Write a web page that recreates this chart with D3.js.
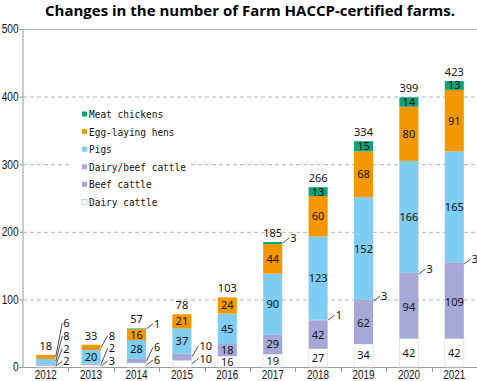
<!DOCTYPE html>
<html>
<head>
<meta charset="utf-8">
<script src="https://cdn.jsdelivr.net/npm/d3@7"></script>
<style>
  body { margin: 0; background: #fff; }
  svg { display: block; }
</style>
</head>
<body>
<svg id="svg" width="477" height="381"></svg>
<script>
// data
var years = ["2012","2013","2014","2015","2016","2017","2018","2019","2020","2021"];
var seriesNames = ["Dairy cattle","Beef cattle","Dairy/beef cattle","Pigs","Egg-laying hens","Meat chickens"];
var dairy     = [2, 3, 6, 10, 16, 19, 27, 34, 42, 42];
var beef      = [2, 2, 6, 10, 18, 29, 42, 62, 94, 109];
var dairyBeef = [0, 0, 0, 0, 0, 0, 1, 3, 3, 3];
var pigs      = [8, 20, 28, 37, 45, 90, 123, 152, 166, 165];
var hens      = [6, 8, 16, 21, 24, 44, 60, 68, 80, 91];
var chickens  = [0, 0, 1, 0, 0, 3, 13, 15, 14, 13];
var yTicks = [0, 100, 200, 300, 400, 500];

var colors = ["#ffffff", "#a5a8d6", "#b4a2cb", "#7fcdf2", "#f39800", "#12a079"];
var seriesVals = [dairy, beef, dairyBeef, pigs, hens, chickens];

var rows = years.map(function(y, i) {
  var r = {year: y};
  seriesNames.forEach(function(s, k) { r[s] = seriesVals[k][i]; });
  return r;
});
var stacked = d3.stack().keys(seriesNames)(rows);

var svg = d3.select("#svg");
var numFont = "'Noto Sans', 'DejaVu Sans', sans-serif";
var axFont = "'Liberation Sans Narrow', 'Liberation Sans', Arial, sans-serif";

var x = d3.scaleBand().domain(years).range([23, 477]).paddingInner(0.58).paddingOuter(0.29);
var y = d3.scaleLinear().domain([0, 500]).range([367, 29]);

// title
svg.append("text")
  .attr("x", 250).attr("y", 16)
  .attr("text-anchor", "middle")
  .attr("font-family", "'Open Sans', 'Noto Sans', sans-serif")
  .attr("font-weight", "bold")
  .attr("font-size", 15)
  .attr("textLength", 410)
  .attr("lengthAdjust", "spacingAndGlyphs")
  .text("Changes in the number of Farm HACCP-certified farms.");

// grid
svg.append("g").selectAll("line")
  .data(yTicks.filter(function(t) { return t > 0; }))
  .join("line")
  .attr("x1", 23).attr("x2", 477)
  .attr("y1", function(d) { return y(d) + 0.5; })
  .attr("y2", function(d) { return y(d) + 0.5; })
  .attr("stroke", "#b3b3b3")
  .attr("stroke-dasharray", function(d) { return d === 500 ? null : "4,3"; });

// y axis
var yAxis = svg.append("g")
  .attr("transform", "translate(22.5,0)")
  .call(d3.axisLeft(y).tickValues(yTicks).tickSize(3).tickPadding(1));
yAxis.select(".domain").attr("stroke", "#999");
yAxis.selectAll(".tick line").attr("stroke", "#999");
yAxis.selectAll(".tick text")
  .attr("font-family", axFont).attr("font-size", 12).attr("fill", "#111")
  .attr("textLength", function(d) { return String(d).length * 5.6; })
  .attr("lengthAdjust", "spacingAndGlyphs");

// x axis line + ticks between bands
svg.append("line")
  .attr("x1", 22.5).attr("x2", 477)
  .attr("y1", y(0) + 0.5).attr("y2", y(0) + 0.5)
  .attr("stroke", "#999");
svg.append("g").selectAll("line")
  .data(years.slice(1))
  .join("line")
  .attr("x1", function(d) { return Math.round(x(d) - x.step() * 0.29) + 0.5; })
  .attr("x2", function(d) { return Math.round(x(d) - x.step() * 0.29) + 0.5; })
  .attr("y1", y(0)).attr("y2", y(0) + 5)
  .attr("stroke", "#999");
svg.append("g").selectAll("text")
  .data(years)
  .join("text")
  .attr("x", function(d) { return x(d) + x.bandwidth() / 2; })
  .attr("y", 379)
  .attr("text-anchor", "middle")
  .attr("font-family", axFont).attr("font-size", 12).attr("fill", "#111")
  .attr("textLength", 22)
  .attr("lengthAdjust", "spacingAndGlyphs")
  .text(function(d) { return d; });

// legend (white box hides the grid behind it)
var lg = svg.append("g");
lg.append("rect")
  .attr("x", 70).attr("y", 104).attr("width", 118).attr("height", 106)
  .attr("fill", "#fff");
seriesNames.slice().reverse().forEach(function(s, i) {
  var k = seriesNames.length - 1 - i;
  var cy = 114 + i * 17.6;
  lg.append("rect")
    .attr("x", 82).attr("y", cy - 2.5).attr("width", 5).attr("height", 5)
    .attr("fill", colors[k])
    .attr("stroke", k === 0 ? "#bbb" : "none")
    .attr("stroke-width", 0.7);
  lg.append("text")
    .attr("x", 89).attr("y", cy).attr("dy", "0.36em")
    .attr("font-family", "'DejaVu Sans Mono', 'Liberation Mono', monospace")
    .attr("font-size", 11)
    .attr("textLength", s.length * 5.7)
    .attr("lengthAdjust", "spacingAndGlyphs")
    .attr("fill", "#111")
    .text(s);
});

// bars
var layers = svg.append("g").selectAll("g")
  .data(stacked)
  .join("g")
  .attr("fill", function(d, i) { return colors[i]; });
layers.selectAll("rect")
  .data(function(d) { return d.filter(function(p) { return p[1] > p[0]; }); })
  .join("rect")
  .attr("x", function(d) { return x(d.data.year); })
  .attr("y", function(d) { return y(d[1]); })
  .attr("width", x.bandwidth())
  .attr("height", function(d) { return y(d[0]) - y(d[1]); })
  .attr("stroke", function() { return d3.select(this.parentNode).datum().key === "Dairy cattle" ? "#e2e2e2" : "none"; })
  .attr("stroke-width", 0.8);

// value labels
var lab = svg.append("g")
  .attr("font-family", numFont).attr("font-size", 11).attr("fill", "#111");
years.forEach(function(yr, i) {
  var cx = x(yr) + x.bandwidth() / 2;
  var right = x(yr) + x.bandwidth();
  var prevY = Infinity;
  stacked.forEach(function(layer) {
    var p = layer[i];
    var v = p[1] - p[0];
    if (v <= 0) return;
    var mid = y((p[0] + p[1]) / 2);
    if (v >= 12) {
      lab.append("text")
        .attr("x", cx).attr("y", mid).attr("dy", "0.36em")
        .attr("text-anchor", "middle")
        .text(v);
    } else {
      var ly = Math.min(mid - 5, prevY - 12.7);
      prevY = ly;
      lab.append("line")
        .attr("x1", right + 0.5).attr("y1", mid)
        .attr("x2", right + 7).attr("y2", ly)
        .attr("stroke", "#222").attr("stroke-width", 0.8);
      lab.append("text")
        .attr("x", right + 8).attr("y", ly).attr("dy", "0.36em")
        .text(v);
    }
  });
  var total = stacked[stacked.length - 1][i][1];
  lab.append("text")
    .attr("x", cx).attr("y", y(total) - 9).attr("dy", "0.36em")
    .attr("text-anchor", "middle")
    .text(total);
});
</script>
</body>
</html>
